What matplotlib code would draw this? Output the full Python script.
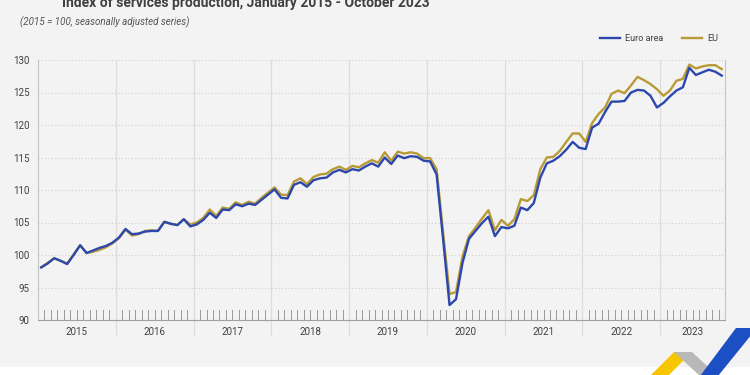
import numpy as np
import matplotlib
matplotlib.use("Agg")
import matplotlib.pyplot as plt
from matplotlib.patches import Polygon, Rectangle

plt.rcParams['font.family'] = ['Roboto', 'DejaVu Sans']

# Monthly index, Jan 2015 - Oct 2023 (2015 = 100)
years = ['2015', '2016', '2017', '2018', '2019', '2020', '2021', '2022', '2023']
euro_area = [
    98.1, 98.7, 99.5, 99.1, 98.6, 100.0, 101.5, 100.3, 100.7, 101.1, 101.4, 101.9,
    102.7, 104.0, 103.2, 103.3, 103.6, 103.7, 103.7, 105.1, 104.8, 104.6, 105.5, 104.4,
    104.7, 105.4, 106.5, 105.7, 107.0, 106.9, 107.8, 107.5, 107.9, 107.7, 108.5, 109.3,
    110.1, 108.8, 108.7, 110.8, 111.2, 110.5, 111.5, 111.8, 111.9, 112.7, 113.1, 112.7,
    113.2, 113.0, 113.6, 114.1, 113.6, 115.0, 114.0, 115.3, 114.9, 115.2, 115.1, 114.5,
    114.4, 112.4, 102.5, 92.3, 93.2, 98.8, 102.5, 103.7, 104.9, 105.9, 102.9, 104.3,
    104.1, 104.5, 107.3, 106.9, 108.0, 111.9, 114.1, 114.5, 115.2, 116.2, 117.4, 116.5,
    116.3, 119.6, 120.2, 122.0, 123.6, 123.6, 123.7, 125.0, 125.4, 125.3, 124.5, 122.7,
    123.4, 124.4, 125.3, 125.8, 128.8, 127.7, 128.1, 128.5, 128.2, 127.6,
]
eu = [
    98.1, 98.8, 99.5, 99.1, 98.7, 100.1, 101.5, 100.3, 100.5, 100.8, 101.2, 101.8,
    102.6, 103.9, 103.0, 103.2, 103.7, 103.8, 103.7, 105.1, 104.8, 104.6, 105.5, 104.7,
    105.0, 105.7, 107.0, 106.0, 107.3, 107.1, 108.1, 107.7, 108.2, 107.9, 108.8, 109.6,
    110.4, 109.3, 109.2, 111.3, 111.8, 110.9, 112.0, 112.4, 112.5, 113.2, 113.6, 113.1,
    113.7, 113.5, 114.1, 114.6, 114.2, 115.8, 114.5, 115.9, 115.6, 115.8, 115.6, 114.9,
    114.9, 113.2, 103.5, 94.0, 94.3, 99.8, 102.9, 104.2, 105.6, 106.9, 103.8, 105.4,
    104.5, 105.5, 108.6, 108.3, 109.2, 113.2, 115.0, 115.1, 116.0, 117.4, 118.7, 118.7,
    117.4, 120.3, 121.7, 122.7, 124.8, 125.3, 124.9, 126.1, 127.4, 126.9, 126.3, 125.5,
    124.5, 125.3, 126.8, 127.1, 129.3, 128.7, 129.0, 129.2, 129.2, 128.6,
]
y_ticks = [90, 95, 100, 105, 110, 115, 120, 125, 130]

BG = '#f3f3f3'
BLUE = '#2c48ad'
GOLD = '#b99b35'
GRID = '#cfcfcf'
TXT = '#404040'

fig = plt.figure(figsize=(7.5, 3.75), dpi=100, facecolor='white')
fig.patches.append(Rectangle((0, 8 / 375), 1, 1, transform=fig.transFigure,
                             facecolor=BG, edgecolor='none', zorder=-10))

ax = fig.add_axes([38 / 750, 1 - 320 / 375, 687 / 750, 260 / 375])
ax.set_facecolor(BG)

n = len(euro_area)
x = np.arange(n)
ax.plot(x, eu, color=GOLD, lw=1.7, label='EU', zorder=3)
ax.plot(x, euro_area, color=BLUE, lw=1.7, label='Euro area', zorder=4)

ax.set_xlim(-0.5, n - 0.5)
ax.set_ylim(90, 130)

# horizontal dotted grid
for v in y_ticks[1:]:
    ax.axhline(v, color=GRID, lw=0.8, ls=(0, (1, 2)), zorder=1)

# year separators, running down through the year labels
for k in range(1, len(years)):
    ax.plot([12 * k - 0.5] * 2, [90, 130], color='#dcdcdc', lw=0.9, zorder=1)
    ax.plot([12 * k - 0.5] * 2, [90, 87.7], color='#dcdcdc', lw=0.9, zorder=1,
            clip_on=False)

# monthly ticks inside the plot
for m in range(1, n):
    if m % 12:
        ax.plot([m - 0.5] * 2, [90, 91.6], color='#9a9a9a', lw=0.7, zorder=2)

ax.spines['top'].set_visible(False)
for side in ['left', 'right']:
    ax.spines[side].set_color('#c4c4c4')
    ax.spines[side].set_linewidth(0.8)
ax.spines['bottom'].set_color('#a0a0a0')
ax.spines['bottom'].set_linewidth(0.8)

ax.set_yticks(y_ticks)
ax.set_yticklabels([str(v) for v in y_ticks], fontsize=7, color=TXT)
ax.tick_params(axis='y', length=0, pad=6)
ax.set_xticks([])

for k, yr in enumerate(years):
    start = 12 * k - 0.5
    end = min(12 * (k + 1) - 0.5, n - 0.5)
    ax.text((start + end) / 2, 88.2, yr, ha='center', va='center',
            fontsize=7, color=TXT)

# title sits partly above the top edge, as in the source image
fig.text(62 / 750, 1 - 7 / 375, 'Index of services production, January 2015 - October 2023',
         fontsize=10, fontweight='bold', color=TXT, va='baseline')
fig.text(20 / 750, 1 - 22 / 375, '(2015 = 100, seasonally adjusted series)',
         fontsize=7, style='italic', color='#555555', va='center')

h, l = ax.get_legend_handles_labels()
ax.legend(h[::-1], l[::-1], loc='lower right', bbox_to_anchor=(0.995, 1.05), ncol=2,
          frameon=False, fontsize=6.5, handlelength=2.2, columnspacing=2.0,
          borderaxespad=0, handletextpad=0.6, labelcolor=TXT)

# logo in the bottom right corner
def px(pts):
    return [(a / 750, 1 - b / 375) for a, b in pts]

fig.patches.append(Polygon(px([(650, 376), (674, 352), (692, 352), (668, 376)]),
                           closed=True, transform=fig.transFigure,
                           facecolor='#f7c600', edgecolor='none'))
fig.patches.append(Polygon(px([(692, 352), (674, 352), (700, 376), (718, 376)]),
                           closed=True, transform=fig.transFigure,
                           facecolor='#b8b8b8', edgecolor='none'))
fig.patches.append(Polygon(px([(736, 328), (752, 328), (752, 334), (718, 376), (700, 376)]),
                           closed=True, transform=fig.transFigure,
                           facecolor='#1d4fc4', edgecolor='none'))

fig.savefig('out.png', dpi=100, facecolor=fig.get_facecolor())
